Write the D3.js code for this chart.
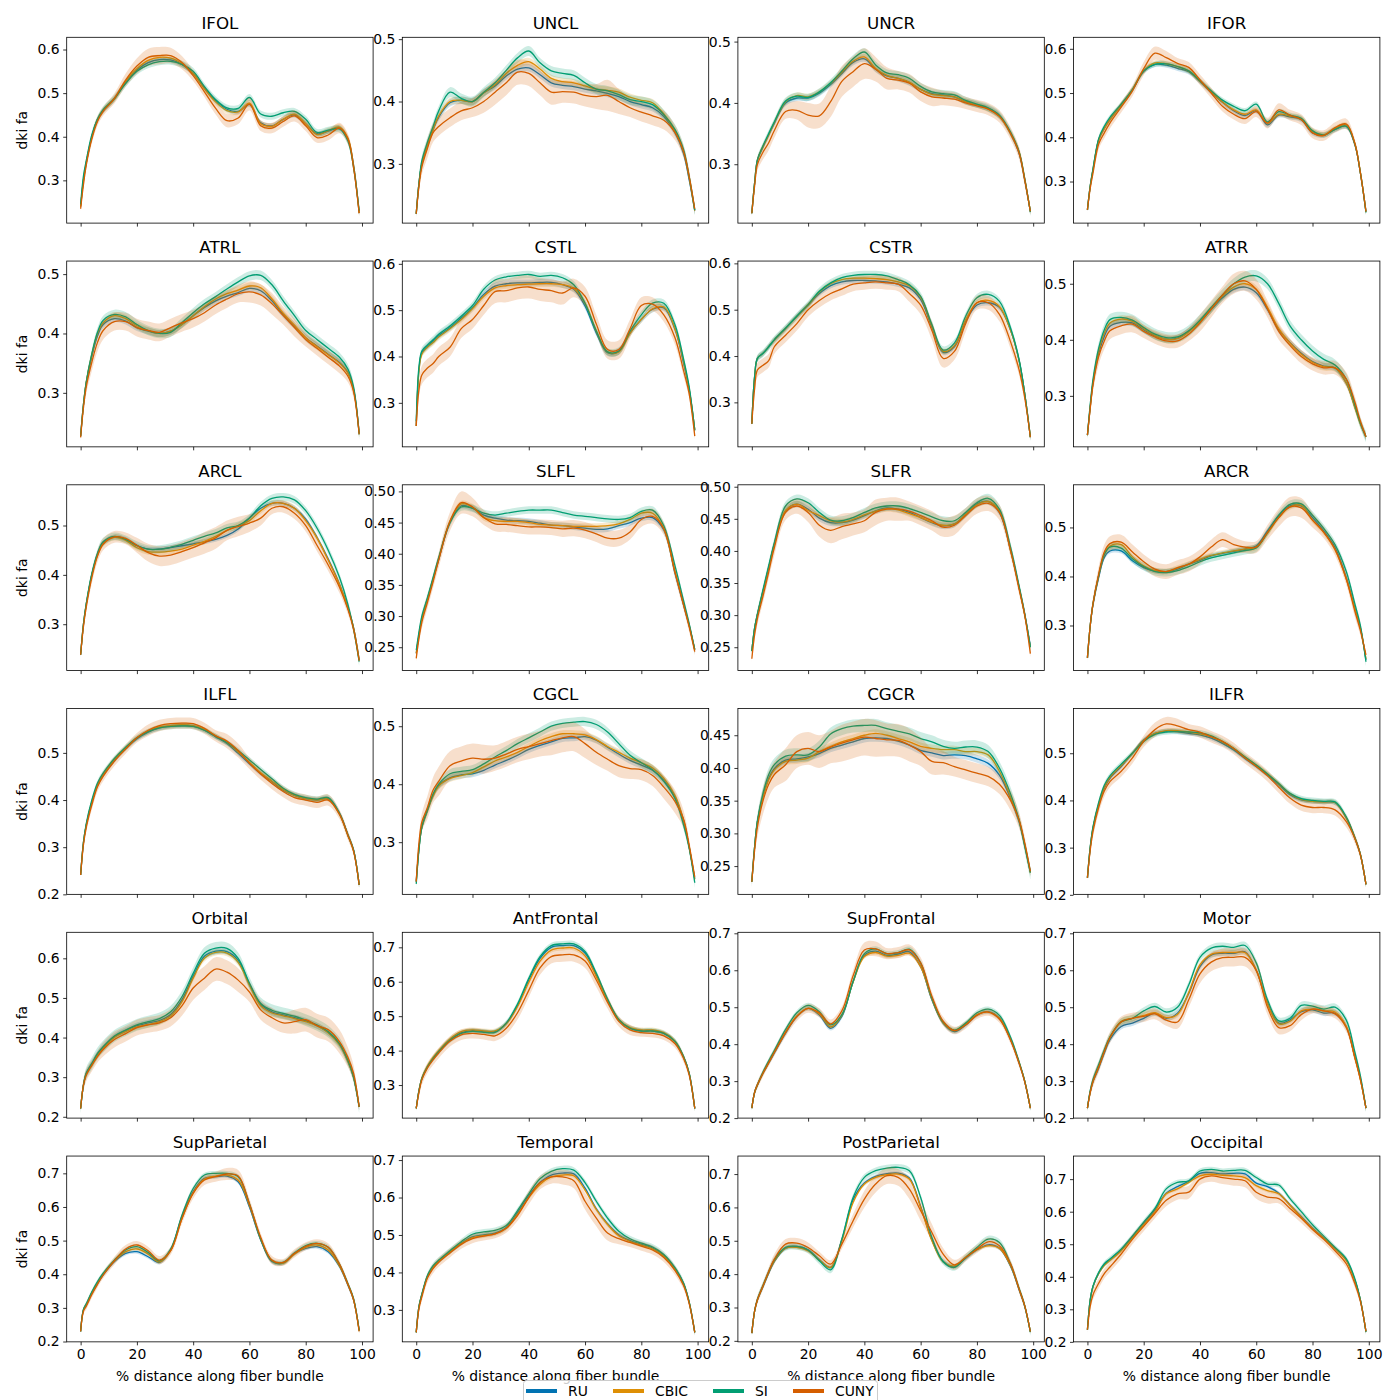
<!DOCTYPE html>
<html><head><meta charset="utf-8">
<script src="https://cdn.jsdelivr.net/npm/d3@7"></script>
<style>body{margin:0;background:#fff}svg{display:block}text{font-family:"DejaVu Sans",sans-serif}</style>
</head><body><svg id="c" width="1400" height="1400"></svg>
<script>
const xs = [0,1,2,4,6,8,12,16,20,24,28,32,36,40,44,48,52,56,60,64,68,72,76,80,84,88,92,95,97,99];
const groups = ["RU","CBIC","SI","CUNY"];
const colors = ["#0173B2","#DE8F05","#029E73","#D55E00"];
const bundles = ["IFOL","UNCL","UNCR","IFOR","ATRL","CSTL","CSTR","ATRR","ARCL","SLFL","SLFR","ARCR","ILFL","CGCL","CGCR","ILFR","Orbital","AntFrontal","SupFrontal","Motor","SupParietal","Temporal","PostParietal","Occipital"];
const xTicks = [0,20,40,60,80,100];
const yLimits = [[0.202,0.628],[0.205,0.503],[0.204,0.507],[0.206,0.626],[0.209,0.522],[0.205,0.606],[0.204,0.605],[0.209,0.5405],[0.206,0.5825],[0.2125,0.5106],[0.2136,0.503],[0.208,0.587],[0.2,0.594],[0.21,0.5305],[0.2068,0.4908],[0.201,0.5947],[0.1967,0.6657],[0.204,0.7436],[0.2,0.7027],[0.2,0.7027],[0.199,0.7514],[0.2147,0.7107],[0.197,0.754],[0.2,0.771]];
const yTicks = [[0.3,0.4,0.5,0.6],[0.3,0.4,0.5],[0.3,0.4,0.5],[0.3,0.4,0.5,0.6],[0.3,0.4,0.5],[0.3,0.4,0.5,0.6],[0.3,0.4,0.5,0.6],[0.3,0.4,0.5],[0.3,0.4,0.5],[0.25,0.30,0.35,0.40,0.45,0.50],[0.25,0.30,0.35,0.40,0.45,0.50],[0.3,0.4,0.5],[0.2,0.3,0.4,0.5],[0.3,0.4,0.5],[0.25,0.30,0.35,0.40,0.45],[0.2,0.3,0.4,0.5],[0.2,0.3,0.4,0.5,0.6],[0.3,0.4,0.5,0.6,0.7],[0.2,0.3,0.4,0.5,0.6,0.7],[0.2,0.3,0.4,0.5,0.6,0.7],[0.2,0.3,0.4,0.5,0.6,0.7],[0.3,0.4,0.5,0.6,0.7],[0.2,0.3,0.4,0.5,0.6,0.7],[0.2,0.3,0.4,0.5,0.6,0.7]];

// IFOL
const IFOL_RU=[0.24,0.30,0.34,0.40,0.44,0.46,0.487,0.525,0.553,0.570,0.577,0.576,0.566,0.545,0.512,0.483,0.463,0.458,0.474,0.432,0.425,0.44,0.45,0.43,0.407,0.413,0.42,0.395,0.335,0.225];
const IFOL_CBIC=[0.24,0.30,0.34,0.40,0.44,0.46,0.487,0.527,0.556,0.575,0.582,0.58,0.567,0.545,0.51,0.48,0.46,0.457,0.477,0.43,0.424,0.44,0.452,0.43,0.405,0.414,0.422,0.397,0.335,0.225];
const IFOL_SI=[0.245,0.31,0.345,0.405,0.44,0.462,0.488,0.522,0.55,0.565,0.572,0.573,0.566,0.55,0.515,0.485,0.466,0.465,0.49,0.452,0.447,0.455,0.458,0.44,0.41,0.415,0.418,0.39,0.33,0.23];
const IFOL_CUNY=[0.235,0.29,0.335,0.395,0.435,0.458,0.488,0.53,0.562,0.582,0.586,0.586,0.57,0.54,0.503,0.465,0.437,0.443,0.475,0.425,0.42,0.435,0.448,0.425,0.398,0.404,0.42,0.395,0.33,0.225];
const IFOL_CUNY_err=[0.005,0.008,0.01,0.01,0.01,0.01,0.012,0.015,0.018,0.02,0.02,0.018,0.015,0.012,0.012,0.014,0.015,0.014,0.015,0.012,0.012,0.012,0.013,0.012,0.012,0.012,0.012,0.012,0.01,0.005];
const IFOL_err=[0.006,0.007,0.008];
// UNCL
const UNCL_RU=[0.22,0.27,0.30,0.33,0.355,0.375,0.398,0.402,0.40,0.414,0.425,0.441,0.452,0.454,0.443,0.43,0.426,0.424,0.42,0.417,0.413,0.408,0.40,0.395,0.39,0.376,0.35,0.317,0.275,0.225];
const UNCL_CBIC=[0.22,0.27,0.30,0.33,0.355,0.377,0.40,0.402,0.40,0.414,0.427,0.445,0.458,0.464,0.452,0.437,0.432,0.43,0.425,0.42,0.418,0.415,0.407,0.402,0.398,0.38,0.352,0.32,0.278,0.225];
const UNCL_SI=[0.22,0.27,0.305,0.335,0.36,0.385,0.415,0.405,0.40,0.415,0.43,0.45,0.47,0.481,0.462,0.449,0.445,0.442,0.43,0.42,0.417,0.411,0.403,0.40,0.395,0.379,0.355,0.323,0.28,0.226];
const UNCL_CUNY=[0.22,0.265,0.295,0.325,0.35,0.36,0.374,0.385,0.39,0.40,0.415,0.43,0.447,0.445,0.43,0.415,0.416,0.415,0.41,0.408,0.41,0.40,0.39,0.383,0.377,0.37,0.35,0.32,0.28,0.228];
const UNCL_CUNY_err=[0.005,0.01,0.012,0.015,0.015,0.015,0.015,0.015,0.015,0.018,0.02,0.02,0.02,0.02,0.02,0.02,0.018,0.018,0.018,0.02,0.025,0.02,0.015,0.015,0.015,0.015,0.012,0.01,0.01,0.006];
const UNCL_err=[0.006,0.006,0.008];
// UNCR
const UNCR_RU=[0.22,0.27,0.307,0.329,0.348,0.367,0.40,0.408,0.408,0.416,0.43,0.448,0.466,0.472,0.455,0.444,0.44,0.433,0.422,0.415,0.413,0.41,0.402,0.397,0.391,0.379,0.35,0.318,0.274,0.223];
const UNCR_CBIC=[0.22,0.27,0.307,0.329,0.348,0.368,0.402,0.412,0.41,0.418,0.432,0.45,0.468,0.475,0.456,0.445,0.44,0.434,0.422,0.414,0.412,0.41,0.402,0.397,0.39,0.378,0.35,0.32,0.276,0.223];
const UNCR_SI=[0.22,0.27,0.307,0.33,0.35,0.369,0.403,0.411,0.409,0.418,0.433,0.452,0.472,0.483,0.462,0.449,0.446,0.44,0.427,0.418,0.415,0.413,0.404,0.398,0.392,0.38,0.352,0.32,0.276,0.222];
const UNCR_CUNY=[0.22,0.265,0.3,0.32,0.335,0.355,0.386,0.388,0.38,0.379,0.402,0.435,0.451,0.464,0.455,0.44,0.437,0.432,0.418,0.41,0.408,0.406,0.40,0.395,0.39,0.378,0.35,0.318,0.274,0.223];
const UNCR_CUNY_err=[0.005,0.008,0.01,0.012,0.012,0.012,0.012,0.015,0.02,0.02,0.025,0.025,0.025,0.025,0.02,0.018,0.015,0.015,0.015,0.015,0.012,0.012,0.01,0.01,0.01,0.01,0.01,0.01,0.01,0.005];
const UNCR_err=[0.005,0.005,0.006];
// IFOR
const IFOR_RU=[0.236,0.29,0.327,0.394,0.42,0.44,0.473,0.507,0.549,0.565,0.563,0.556,0.548,0.526,0.502,0.479,0.46,0.449,0.46,0.428,0.45,0.446,0.44,0.41,0.405,0.418,0.425,0.385,0.32,0.232];
const IFOR_CBIC=[0.236,0.29,0.327,0.394,0.42,0.44,0.473,0.508,0.55,0.568,0.566,0.56,0.55,0.527,0.503,0.48,0.462,0.452,0.462,0.432,0.452,0.448,0.442,0.413,0.406,0.42,0.428,0.387,0.322,0.232];
const IFOR_SI=[0.236,0.29,0.33,0.397,0.425,0.445,0.475,0.508,0.55,0.565,0.566,0.56,0.55,0.528,0.505,0.484,0.47,0.46,0.475,0.435,0.458,0.45,0.443,0.415,0.405,0.418,0.425,0.385,0.32,0.23];
const IFOR_CUNY=[0.236,0.285,0.32,0.385,0.41,0.432,0.468,0.505,0.555,0.59,0.58,0.567,0.558,0.53,0.5,0.47,0.452,0.442,0.458,0.432,0.462,0.45,0.44,0.41,0.404,0.422,0.43,0.387,0.32,0.232];
const IFOR_CUNY_err=[0.005,0.008,0.01,0.012,0.012,0.012,0.012,0.012,0.015,0.015,0.015,0.012,0.012,0.012,0.012,0.012,0.012,0.012,0.012,0.012,0.015,0.012,0.012,0.012,0.012,0.012,0.012,0.01,0.01,0.005];
const IFOR_err=[0.006,0.006,0.006];
// ATRL
const ATRL_RU=[0.227,0.28,0.317,0.362,0.396,0.415,0.425,0.421,0.41,0.404,0.40,0.404,0.415,0.43,0.444,0.455,0.463,0.469,0.476,0.472,0.455,0.432,0.413,0.393,0.379,0.365,0.351,0.334,0.306,0.232];
const ATRL_CBIC=[0.227,0.28,0.318,0.365,0.4,0.418,0.43,0.425,0.413,0.405,0.40,0.404,0.415,0.43,0.445,0.458,0.467,0.473,0.48,0.477,0.458,0.434,0.414,0.393,0.378,0.364,0.35,0.333,0.305,0.232];
const ATRL_SI=[0.227,0.28,0.318,0.366,0.402,0.422,0.432,0.428,0.415,0.405,0.40,0.402,0.418,0.435,0.45,0.462,0.475,0.487,0.497,0.498,0.482,0.455,0.43,0.405,0.39,0.375,0.36,0.34,0.31,0.23];
const ATRL_CUNY=[0.225,0.275,0.31,0.352,0.385,0.405,0.42,0.42,0.41,0.405,0.402,0.41,0.418,0.425,0.435,0.448,0.458,0.467,0.47,0.465,0.45,0.43,0.41,0.39,0.375,0.36,0.345,0.328,0.302,0.23];
const ATRL_CUNY_err=[0.005,0.01,0.012,0.015,0.015,0.015,0.015,0.015,0.015,0.015,0.015,0.015,0.015,0.015,0.015,0.015,0.015,0.015,0.018,0.018,0.018,0.015,0.015,0.012,0.012,0.012,0.012,0.01,0.01,0.005];
const ATRL_err=[0.006,0.006,0.008];
// CSTL
const CSTL_RU=[0.25,0.372,0.408,0.422,0.433,0.445,0.462,0.483,0.505,0.534,0.552,0.557,0.559,0.559,0.56,0.56,0.555,0.545,0.509,0.451,0.408,0.411,0.451,0.48,0.502,0.505,0.458,0.386,0.329,0.242];
const CSTL_CBIC=[0.25,0.37,0.405,0.42,0.43,0.442,0.46,0.48,0.503,0.53,0.548,0.553,0.555,0.556,0.557,0.557,0.555,0.547,0.515,0.455,0.41,0.41,0.45,0.48,0.503,0.507,0.46,0.39,0.33,0.242];
const CSTL_SI=[0.26,0.38,0.412,0.425,0.436,0.448,0.466,0.487,0.51,0.545,0.565,0.572,0.575,0.577,0.573,0.575,0.57,0.555,0.515,0.455,0.41,0.412,0.455,0.49,0.515,0.515,0.468,0.395,0.335,0.24];
const CSTL_CUNY=[0.25,0.33,0.36,0.375,0.385,0.40,0.42,0.46,0.48,0.51,0.54,0.542,0.548,0.55,0.545,0.542,0.537,0.548,0.53,0.47,0.415,0.415,0.46,0.51,0.513,0.49,0.44,0.37,0.32,0.228];
const CSTL_CUNY_err=[0.01,0.015,0.02,0.02,0.02,0.02,0.02,0.02,0.02,0.02,0.025,0.025,0.025,0.025,0.025,0.025,0.025,0.02,0.02,0.02,0.02,0.02,0.02,0.018,0.015,0.015,0.015,0.012,0.01,0.006];
const CSTL_err=[0.007,0.007,0.008];
// CSTR
const CSTR_RU=[0.254,0.356,0.395,0.406,0.42,0.435,0.46,0.486,0.51,0.535,0.552,0.56,0.563,0.563,0.562,0.56,0.555,0.547,0.522,0.462,0.408,0.42,0.475,0.51,0.515,0.505,0.455,0.39,0.318,0.225];
const CSTR_CBIC=[0.254,0.356,0.395,0.406,0.42,0.435,0.46,0.486,0.51,0.538,0.556,0.565,0.568,0.568,0.567,0.565,0.56,0.552,0.527,0.465,0.41,0.422,0.478,0.515,0.52,0.507,0.455,0.39,0.318,0.225];
const CSTR_SI=[0.254,0.356,0.395,0.406,0.42,0.435,0.46,0.486,0.511,0.54,0.558,0.569,0.574,0.576,0.576,0.573,0.565,0.554,0.529,0.468,0.413,0.428,0.486,0.526,0.533,0.518,0.46,0.392,0.319,0.225];
const CSTR_CUNY=[0.254,0.33,0.37,0.38,0.39,0.42,0.445,0.47,0.50,0.52,0.535,0.545,0.555,0.558,0.56,0.558,0.555,0.535,0.51,0.455,0.395,0.41,0.47,0.515,0.515,0.49,0.43,0.37,0.31,0.225];
const CSTR_CUNY_err=[0.01,0.015,0.015,0.015,0.015,0.015,0.015,0.015,0.015,0.015,0.015,0.015,0.015,0.015,0.015,0.015,0.015,0.018,0.02,0.02,0.02,0.018,0.018,0.015,0.015,0.015,0.015,0.012,0.01,0.006];
const CSTR_err=[0.006,0.006,0.008];
// ATRR
const ATRR_RU=[0.23,0.28,0.323,0.376,0.406,0.424,0.431,0.43,0.418,0.407,0.401,0.403,0.415,0.433,0.454,0.475,0.49,0.494,0.484,0.454,0.418,0.395,0.376,0.361,0.353,0.35,0.323,0.281,0.251,0.227];
const ATRR_CBIC=[0.23,0.28,0.325,0.38,0.412,0.43,0.437,0.433,0.42,0.408,0.401,0.402,0.414,0.433,0.455,0.478,0.494,0.5,0.49,0.458,0.42,0.394,0.374,0.36,0.352,0.35,0.323,0.28,0.25,0.227];
const ATRR_SI=[0.23,0.285,0.33,0.385,0.418,0.436,0.44,0.435,0.422,0.41,0.404,0.405,0.416,0.435,0.458,0.48,0.5,0.512,0.514,0.5,0.465,0.425,0.40,0.38,0.365,0.355,0.33,0.285,0.252,0.227];
const ATRR_CUNY=[0.23,0.278,0.32,0.37,0.398,0.416,0.425,0.428,0.415,0.405,0.398,0.398,0.41,0.43,0.455,0.48,0.5,0.505,0.49,0.455,0.415,0.39,0.37,0.357,0.35,0.35,0.33,0.29,0.255,0.227];
const ATRR_CUNY_err=[0.005,0.01,0.012,0.015,0.015,0.015,0.015,0.015,0.012,0.012,0.012,0.012,0.012,0.015,0.015,0.015,0.018,0.018,0.018,0.015,0.015,0.012,0.012,0.012,0.012,0.012,0.012,0.01,0.008,0.005];
const ATRR_err=[0.006,0.007,0.01];
// ARCL
const ARCL_RU=[0.238,0.30,0.34,0.401,0.442,0.465,0.477,0.472,0.459,0.452,0.452,0.455,0.459,0.463,0.467,0.472,0.48,0.493,0.515,0.535,0.545,0.545,0.535,0.513,0.476,0.432,0.381,0.333,0.293,0.228];
const ARCL_CBIC=[0.238,0.30,0.34,0.40,0.44,0.463,0.476,0.47,0.455,0.447,0.446,0.448,0.452,0.46,0.468,0.478,0.49,0.5,0.51,0.53,0.545,0.545,0.535,0.51,0.475,0.43,0.38,0.333,0.293,0.228];
const ARCL_SI=[0.238,0.30,0.342,0.403,0.444,0.467,0.478,0.472,0.46,0.452,0.452,0.456,0.462,0.47,0.478,0.485,0.495,0.50,0.515,0.54,0.555,0.558,0.552,0.53,0.495,0.45,0.395,0.34,0.29,0.224];
const ARCL_CUNY=[0.238,0.295,0.335,0.395,0.438,0.462,0.477,0.474,0.46,0.445,0.438,0.44,0.447,0.455,0.465,0.475,0.49,0.498,0.505,0.515,0.535,0.538,0.525,0.50,0.46,0.42,0.375,0.33,0.29,0.226];
const ARCL_CUNY_err=[0.005,0.01,0.01,0.012,0.012,0.012,0.012,0.012,0.015,0.018,0.02,0.02,0.02,0.02,0.022,0.022,0.02,0.02,0.018,0.015,0.012,0.012,0.012,0.012,0.012,0.012,0.012,0.01,0.008,0.005];
const ARCL_err=[0.005,0.006,0.008];
// SLFL
const SLFL_RU=[0.24,0.27,0.295,0.327,0.359,0.391,0.45,0.477,0.473,0.462,0.457,0.454,0.453,0.452,0.449,0.446,0.445,0.443,0.441,0.439,0.44,0.445,0.45,0.457,0.458,0.438,0.368,0.318,0.285,0.246];
const SLFL_CBIC=[0.24,0.27,0.295,0.327,0.359,0.392,0.452,0.48,0.475,0.458,0.453,0.452,0.452,0.45,0.447,0.446,0.445,0.444,0.444,0.444,0.445,0.448,0.455,0.465,0.465,0.44,0.37,0.32,0.285,0.246];
const SLFL_SI=[0.245,0.275,0.3,0.33,0.362,0.394,0.45,0.475,0.473,0.465,0.462,0.465,0.468,0.47,0.47,0.47,0.466,0.462,0.46,0.458,0.456,0.455,0.458,0.468,0.47,0.445,0.38,0.325,0.288,0.246];
const SLFL_CUNY=[0.232,0.265,0.29,0.322,0.355,0.39,0.452,0.482,0.475,0.458,0.448,0.447,0.445,0.443,0.443,0.442,0.44,0.441,0.438,0.432,0.425,0.425,0.435,0.455,0.46,0.44,0.37,0.318,0.283,0.243];
const SLFL_CUNY_err=[0.005,0.008,0.01,0.01,0.01,0.012,0.015,0.018,0.015,0.012,0.012,0.012,0.012,0.012,0.012,0.012,0.013,0.013,0.013,0.013,0.013,0.013,0.012,0.012,0.012,0.01,0.01,0.008,0.008,0.005];
const SLFL_err=[0.005,0.005,0.006];
// SLFR
const SLFR_RU=[0.244,0.28,0.301,0.3375,0.374,0.41,0.4625,0.473,0.465,0.451,0.444,0.444,0.448,0.455,0.4625,0.467,0.465,0.46,0.452,0.444,0.439,0.442,0.457,0.473,0.477,0.46,0.40,0.343,0.301,0.252];
const SLFR_CBIC=[0.244,0.28,0.301,0.3375,0.374,0.41,0.463,0.473,0.463,0.455,0.447,0.445,0.449,0.456,0.462,0.466,0.464,0.458,0.452,0.445,0.44,0.442,0.457,0.472,0.477,0.462,0.40,0.343,0.3,0.25];
const SLFR_SI=[0.244,0.28,0.302,0.34,0.377,0.413,0.47,0.481,0.475,0.46,0.448,0.447,0.452,0.46,0.467,0.47,0.47,0.466,0.46,0.453,0.447,0.447,0.46,0.475,0.482,0.465,0.405,0.345,0.302,0.25];
const SLFR_CUNY=[0.232,0.27,0.295,0.33,0.367,0.405,0.46,0.47,0.46,0.44,0.432,0.438,0.442,0.447,0.46,0.465,0.465,0.462,0.455,0.447,0.437,0.44,0.455,0.47,0.474,0.46,0.40,0.34,0.3,0.24];
const SLFR_CUNY_err=[0.005,0.008,0.01,0.01,0.01,0.012,0.012,0.012,0.015,0.018,0.02,0.02,0.018,0.018,0.02,0.018,0.018,0.015,0.015,0.015,0.015,0.015,0.012,0.012,0.012,0.012,0.01,0.008,0.008,0.005];
const SLFR_err=[0.005,0.005,0.007];
// ARCR
const ARCR_RU=[0.234,0.3,0.343,0.398,0.439,0.452,0.452,0.432,0.418,0.411,0.41,0.415,0.425,0.433,0.442,0.447,0.451,0.456,0.462,0.493,0.524,0.544,0.544,0.52,0.493,0.459,0.398,0.336,0.295,0.23];
const ARCR_CBIC=[0.234,0.3,0.345,0.402,0.445,0.462,0.465,0.44,0.422,0.412,0.41,0.417,0.425,0.435,0.443,0.448,0.452,0.456,0.46,0.488,0.52,0.542,0.545,0.515,0.49,0.455,0.395,0.335,0.295,0.232];
const ARCR_SI=[0.234,0.3,0.345,0.402,0.445,0.46,0.458,0.436,0.42,0.41,0.408,0.412,0.42,0.43,0.438,0.443,0.448,0.453,0.458,0.49,0.525,0.547,0.548,0.525,0.498,0.465,0.41,0.345,0.3,0.226];
const ARCR_CUNY=[0.234,0.3,0.345,0.405,0.45,0.467,0.47,0.45,0.43,0.415,0.41,0.418,0.425,0.44,0.46,0.475,0.465,0.46,0.46,0.49,0.52,0.542,0.54,0.515,0.49,0.455,0.395,0.33,0.29,0.24];
const ARCR_CUNY_err=[0.005,0.01,0.012,0.015,0.015,0.015,0.015,0.015,0.015,0.015,0.015,0.015,0.015,0.015,0.015,0.015,0.015,0.012,0.012,0.015,0.018,0.02,0.02,0.015,0.012,0.012,0.012,0.012,0.01,0.006];
const ARCR_err=[0.005,0.006,0.008];
// ILFL
const ILFL_RU=[0.241,0.31,0.347,0.396,0.432,0.453,0.484,0.509,0.53,0.544,0.553,0.557,0.559,0.557,0.548,0.534,0.52,0.499,0.477,0.456,0.439,0.421,0.41,0.403,0.40,0.403,0.372,0.326,0.294,0.22];
const ILFL_CBIC=[0.241,0.31,0.347,0.396,0.432,0.454,0.486,0.51,0.532,0.546,0.555,0.558,0.56,0.558,0.55,0.536,0.522,0.502,0.48,0.458,0.44,0.422,0.41,0.403,0.40,0.402,0.37,0.325,0.293,0.22];
const ILFL_SI=[0.241,0.31,0.35,0.4,0.436,0.457,0.488,0.512,0.532,0.545,0.553,0.556,0.557,0.556,0.548,0.535,0.522,0.505,0.485,0.465,0.445,0.425,0.412,0.405,0.402,0.405,0.372,0.326,0.294,0.22];
const ILFL_CUNY=[0.241,0.305,0.342,0.39,0.428,0.45,0.482,0.508,0.532,0.548,0.558,0.562,0.563,0.562,0.552,0.536,0.525,0.505,0.478,0.455,0.435,0.418,0.405,0.40,0.395,0.40,0.37,0.325,0.292,0.22];
const ILFL_CUNY_err=[0.005,0.008,0.01,0.01,0.01,0.01,0.01,0.01,0.01,0.012,0.012,0.012,0.012,0.012,0.012,0.012,0.015,0.015,0.012,0.012,0.012,0.012,0.012,0.012,0.012,0.012,0.01,0.01,0.008,0.005];
const ILFL_err=[0.005,0.005,0.006];
// CGCL
const CGCL_RU=[0.232,0.29,0.326,0.355,0.381,0.398,0.411,0.416,0.418,0.424,0.433,0.441,0.45,0.46,0.467,0.473,0.479,0.48,0.482,0.476,0.464,0.452,0.441,0.433,0.424,0.407,0.378,0.338,0.292,0.237];
const CGCL_CBIC=[0.232,0.29,0.326,0.355,0.38,0.397,0.41,0.415,0.42,0.43,0.44,0.447,0.455,0.465,0.475,0.482,0.487,0.487,0.485,0.477,0.465,0.455,0.445,0.437,0.428,0.41,0.38,0.338,0.292,0.236];
const CGCL_SI=[0.228,0.288,0.326,0.356,0.383,0.4,0.418,0.422,0.425,0.435,0.447,0.458,0.47,0.48,0.49,0.50,0.505,0.507,0.508,0.503,0.49,0.47,0.45,0.437,0.425,0.405,0.375,0.33,0.29,0.23];
const CGCL_CUNY=[0.232,0.3,0.335,0.36,0.39,0.405,0.432,0.44,0.445,0.443,0.445,0.452,0.46,0.465,0.47,0.475,0.48,0.482,0.47,0.455,0.443,0.432,0.427,0.425,0.415,0.395,0.37,0.34,0.295,0.24];
const CGCL_CUNY_err=[0.006,0.012,0.015,0.02,0.022,0.025,0.025,0.025,0.025,0.025,0.022,0.022,0.022,0.022,0.022,0.025,0.025,0.025,0.025,0.022,0.02,0.02,0.018,0.018,0.018,0.02,0.02,0.015,0.01,0.006];
const CGCL_err=[0.006,0.006,0.008];
// CGCR
const CGCR_RU=[0.226,0.28,0.318,0.358,0.384,0.399,0.412,0.414,0.417,0.422,0.43,0.435,0.44,0.445,0.446,0.445,0.441,0.435,0.427,0.423,0.419,0.42,0.419,0.414,0.407,0.389,0.353,0.318,0.282,0.241];
const CGCR_CBIC=[0.226,0.28,0.318,0.356,0.382,0.397,0.41,0.412,0.415,0.425,0.433,0.44,0.445,0.45,0.453,0.45,0.445,0.44,0.433,0.43,0.428,0.428,0.425,0.425,0.42,0.395,0.355,0.32,0.283,0.24];
const CGCR_SI=[0.226,0.28,0.32,0.362,0.39,0.405,0.418,0.42,0.42,0.432,0.452,0.46,0.464,0.465,0.465,0.46,0.456,0.452,0.445,0.44,0.433,0.43,0.432,0.432,0.425,0.40,0.36,0.32,0.28,0.24];
const CGCR_CUNY=[0.226,0.275,0.31,0.35,0.375,0.39,0.405,0.425,0.43,0.425,0.432,0.438,0.443,0.447,0.445,0.443,0.442,0.435,0.425,0.41,0.408,0.402,0.397,0.392,0.387,0.375,0.35,0.32,0.285,0.242];
const CGCR_CUNY_err=[0.006,0.01,0.015,0.02,0.02,0.02,0.025,0.025,0.025,0.025,0.025,0.028,0.028,0.028,0.028,0.025,0.025,0.025,0.022,0.02,0.018,0.015,0.015,0.015,0.015,0.015,0.015,0.012,0.01,0.006];
const CGCR_err=[0.006,0.006,0.01];
// ILFR
const ILFR_RU=[0.236,0.3,0.342,0.391,0.426,0.447,0.472,0.50,0.528,0.542,0.547,0.546,0.542,0.539,0.532,0.521,0.507,0.489,0.472,0.454,0.433,0.412,0.401,0.398,0.397,0.395,0.363,0.321,0.286,0.222];
const ILFR_CBIC=[0.236,0.3,0.342,0.392,0.428,0.449,0.474,0.50,0.527,0.542,0.548,0.548,0.545,0.541,0.535,0.524,0.51,0.492,0.475,0.456,0.435,0.414,0.402,0.398,0.397,0.396,0.363,0.322,0.286,0.222];
const ILFR_SI=[0.236,0.302,0.345,0.396,0.432,0.452,0.477,0.50,0.525,0.54,0.545,0.546,0.545,0.543,0.537,0.525,0.51,0.492,0.475,0.456,0.436,0.415,0.404,0.4,0.398,0.397,0.365,0.322,0.286,0.222];
const ILFR_CUNY=[0.236,0.295,0.335,0.385,0.42,0.44,0.462,0.49,0.525,0.55,0.562,0.558,0.55,0.545,0.535,0.525,0.51,0.49,0.472,0.452,0.428,0.405,0.39,0.385,0.385,0.38,0.355,0.32,0.285,0.222];
const ILFR_CUNY_err=[0.005,0.01,0.012,0.012,0.012,0.012,0.012,0.012,0.012,0.015,0.015,0.015,0.012,0.012,0.012,0.012,0.012,0.012,0.012,0.012,0.012,0.012,0.012,0.012,0.012,0.012,0.012,0.01,0.008,0.005];
const ILFR_err=[0.005,0.005,0.006];
// Orbital
const Orbital_RU=[0.221,0.28,0.31,0.334,0.358,0.375,0.402,0.418,0.43,0.437,0.443,0.458,0.495,0.555,0.605,0.618,0.617,0.595,0.535,0.484,0.465,0.457,0.45,0.442,0.43,0.413,0.383,0.34,0.3,0.225];
const Orbital_CBIC=[0.221,0.28,0.308,0.332,0.355,0.372,0.4,0.415,0.427,0.433,0.44,0.455,0.49,0.55,0.6,0.615,0.613,0.59,0.532,0.48,0.462,0.455,0.448,0.44,0.43,0.412,0.382,0.34,0.3,0.225];
const Orbital_SI=[0.221,0.28,0.31,0.335,0.36,0.377,0.404,0.419,0.432,0.44,0.448,0.465,0.503,0.562,0.613,0.626,0.625,0.60,0.537,0.486,0.469,0.461,0.454,0.444,0.432,0.415,0.385,0.343,0.301,0.225];
const Orbital_CUNY=[0.221,0.28,0.305,0.33,0.352,0.37,0.395,0.41,0.425,0.432,0.437,0.45,0.48,0.525,0.55,0.573,0.565,0.545,0.515,0.47,0.45,0.437,0.44,0.445,0.43,0.42,0.39,0.35,0.31,0.225];
const Orbital_CUNY_err=[0.006,0.015,0.015,0.015,0.015,0.018,0.02,0.02,0.02,0.02,0.02,0.022,0.025,0.03,0.03,0.03,0.03,0.03,0.025,0.025,0.025,0.025,0.03,0.03,0.03,0.03,0.03,0.025,0.02,0.008];
const Orbital_err=[0.008,0.008,0.015];
// AntFrontal
const AntFrontal_RU=[0.232,0.285,0.319,0.353,0.377,0.397,0.431,0.452,0.458,0.455,0.455,0.479,0.532,0.605,0.668,0.70,0.705,0.705,0.683,0.62,0.547,0.489,0.465,0.457,0.457,0.45,0.426,0.382,0.334,0.232];
const AntFrontal_CBIC=[0.232,0.285,0.32,0.355,0.38,0.4,0.434,0.455,0.46,0.457,0.457,0.478,0.528,0.598,0.66,0.692,0.698,0.698,0.675,0.615,0.547,0.49,0.467,0.46,0.46,0.452,0.427,0.382,0.334,0.232];
const AntFrontal_SI=[0.232,0.285,0.319,0.353,0.377,0.397,0.43,0.45,0.456,0.453,0.453,0.48,0.535,0.61,0.673,0.705,0.71,0.71,0.688,0.625,0.55,0.49,0.465,0.457,0.457,0.45,0.427,0.383,0.335,0.232];
const AntFrontal_CUNY=[0.232,0.28,0.315,0.35,0.373,0.393,0.427,0.446,0.45,0.447,0.443,0.465,0.51,0.575,0.64,0.673,0.678,0.678,0.66,0.605,0.54,0.485,0.46,0.452,0.45,0.443,0.42,0.378,0.33,0.232];
const AntFrontal_CUNY_err=[0.006,0.015,0.015,0.015,0.015,0.015,0.015,0.015,0.015,0.015,0.015,0.018,0.02,0.02,0.02,0.02,0.02,0.02,0.02,0.02,0.018,0.015,0.015,0.012,0.012,0.012,0.012,0.012,0.01,0.006];
const AntFrontal_err=[0.006,0.007,0.008];
// SupFrontal
const SupFrontal_RU=[0.227,0.27,0.29,0.322,0.349,0.376,0.43,0.475,0.497,0.479,0.443,0.475,0.569,0.641,0.652,0.64,0.644,0.65,0.61,0.52,0.457,0.434,0.452,0.479,0.488,0.47,0.412,0.349,0.299,0.227];
const SupFrontal_CBIC=[0.227,0.27,0.29,0.322,0.35,0.378,0.432,0.476,0.497,0.482,0.447,0.478,0.568,0.637,0.648,0.638,0.64,0.646,0.61,0.522,0.458,0.437,0.455,0.48,0.487,0.47,0.412,0.35,0.3,0.227];
const SupFrontal_SI=[0.227,0.27,0.29,0.325,0.355,0.383,0.44,0.485,0.505,0.488,0.452,0.48,0.57,0.645,0.658,0.645,0.648,0.657,0.62,0.525,0.46,0.438,0.457,0.485,0.495,0.478,0.418,0.352,0.3,0.227];
const SupFrontal_CUNY=[0.227,0.27,0.29,0.322,0.35,0.378,0.432,0.475,0.497,0.485,0.455,0.49,0.585,0.655,0.658,0.645,0.648,0.655,0.62,0.53,0.462,0.437,0.452,0.478,0.487,0.468,0.41,0.348,0.298,0.227];
const SupFrontal_CUNY_err=[0.005,0.008,0.01,0.01,0.01,0.01,0.012,0.012,0.012,0.012,0.012,0.012,0.015,0.02,0.02,0.015,0.015,0.015,0.015,0.012,0.012,0.01,0.01,0.01,0.01,0.01,0.01,0.01,0.008,0.005];
const SupFrontal_err=[0.006,0.006,0.007];
// Motor
const Motor_RU=[0.227,0.27,0.299,0.335,0.376,0.412,0.448,0.457,0.47,0.484,0.47,0.484,0.538,0.61,0.641,0.646,0.646,0.65,0.60,0.511,0.457,0.466,0.488,0.493,0.484,0.484,0.448,0.367,0.308,0.227];
const Motor_CBIC=[0.227,0.27,0.3,0.338,0.38,0.418,0.462,0.47,0.478,0.485,0.472,0.48,0.54,0.615,0.643,0.648,0.648,0.648,0.60,0.51,0.455,0.462,0.49,0.495,0.49,0.487,0.448,0.365,0.305,0.227];
const Motor_SI=[0.227,0.275,0.305,0.345,0.385,0.42,0.46,0.47,0.49,0.502,0.487,0.50,0.56,0.635,0.66,0.665,0.662,0.667,0.62,0.52,0.463,0.47,0.505,0.503,0.495,0.50,0.465,0.38,0.315,0.227];
const Motor_CUNY=[0.227,0.27,0.3,0.338,0.38,0.418,0.46,0.47,0.475,0.482,0.465,0.46,0.52,0.59,0.622,0.634,0.635,0.635,0.60,0.50,0.445,0.45,0.48,0.495,0.49,0.482,0.445,0.365,0.305,0.227];
const Motor_CUNY_err=[0.006,0.012,0.015,0.015,0.015,0.015,0.015,0.015,0.015,0.015,0.015,0.018,0.02,0.025,0.025,0.025,0.025,0.025,0.025,0.02,0.018,0.015,0.015,0.012,0.012,0.012,0.012,0.012,0.01,0.006];
const Motor_err=[0.008,0.008,0.01];
// SupParietal
const SupParietal_RU=[0.23,0.294,0.309,0.344,0.373,0.398,0.438,0.462,0.467,0.452,0.435,0.472,0.571,0.646,0.685,0.69,0.692,0.675,0.60,0.502,0.438,0.433,0.462,0.477,0.482,0.467,0.423,0.368,0.324,0.235];
const SupParietal_CBIC=[0.23,0.294,0.31,0.345,0.375,0.4,0.44,0.467,0.475,0.46,0.437,0.47,0.565,0.642,0.683,0.692,0.695,0.68,0.605,0.505,0.44,0.433,0.46,0.48,0.487,0.472,0.425,0.37,0.325,0.232];
const SupParietal_SI=[0.23,0.295,0.312,0.348,0.378,0.403,0.442,0.472,0.482,0.465,0.44,0.475,0.575,0.655,0.695,0.70,0.70,0.69,0.61,0.505,0.44,0.435,0.463,0.485,0.492,0.48,0.43,0.372,0.328,0.232];
const SupParietal_CUNY=[0.23,0.29,0.305,0.34,0.37,0.397,0.44,0.475,0.487,0.47,0.442,0.47,0.565,0.64,0.68,0.69,0.698,0.692,0.61,0.51,0.442,0.435,0.462,0.483,0.492,0.48,0.43,0.37,0.325,0.23];
const SupParietal_CUNY_err=[0.005,0.008,0.01,0.01,0.01,0.01,0.012,0.012,0.012,0.012,0.012,0.012,0.015,0.015,0.015,0.015,0.018,0.018,0.015,0.012,0.012,0.01,0.012,0.012,0.012,0.012,0.01,0.01,0.008,0.005];
const SupParietal_err=[0.006,0.006,0.007];
// Temporal
const Temporal_RU=[0.24,0.31,0.34,0.39,0.415,0.43,0.455,0.478,0.495,0.50,0.505,0.52,0.56,0.605,0.64,0.66,0.665,0.663,0.625,0.57,0.53,0.50,0.485,0.475,0.465,0.445,0.41,0.37,0.32,0.24];
const Temporal_CBIC=[0.24,0.31,0.34,0.39,0.415,0.43,0.455,0.477,0.493,0.498,0.503,0.518,0.555,0.6,0.635,0.655,0.66,0.658,0.62,0.568,0.528,0.498,0.483,0.473,0.463,0.443,0.408,0.37,0.32,0.24];
const Temporal_SI=[0.24,0.31,0.342,0.392,0.418,0.433,0.458,0.482,0.502,0.508,0.512,0.525,0.565,0.61,0.65,0.67,0.677,0.673,0.64,0.59,0.545,0.51,0.49,0.478,0.468,0.448,0.412,0.372,0.322,0.24];
const Temporal_CUNY=[0.24,0.305,0.335,0.385,0.41,0.427,0.452,0.475,0.49,0.497,0.503,0.518,0.552,0.6,0.64,0.655,0.655,0.645,0.59,0.545,0.505,0.49,0.48,0.47,0.46,0.44,0.405,0.365,0.318,0.24];
const Temporal_CUNY_err=[0.006,0.012,0.012,0.012,0.012,0.012,0.012,0.012,0.012,0.012,0.012,0.012,0.015,0.018,0.018,0.018,0.02,0.02,0.022,0.022,0.02,0.015,0.012,0.012,0.012,0.012,0.012,0.01,0.01,0.006];
const Temporal_err=[0.006,0.006,0.008];
// PostParietal
const PostParietal_RU=[0.223,0.29,0.323,0.363,0.403,0.438,0.478,0.483,0.473,0.443,0.42,0.503,0.623,0.673,0.693,0.701,0.703,0.688,0.603,0.503,0.438,0.422,0.448,0.473,0.488,0.478,0.423,0.353,0.303,0.228];
const PostParietal_CBIC=[0.223,0.29,0.323,0.365,0.405,0.44,0.478,0.48,0.47,0.442,0.42,0.50,0.615,0.67,0.69,0.698,0.70,0.685,0.60,0.50,0.437,0.425,0.45,0.473,0.485,0.478,0.425,0.355,0.305,0.228];
const PostParietal_SI=[0.223,0.29,0.325,0.367,0.408,0.443,0.48,0.483,0.472,0.44,0.413,0.505,0.63,0.69,0.71,0.718,0.72,0.71,0.63,0.51,0.438,0.42,0.45,0.48,0.505,0.495,0.43,0.357,0.305,0.226];
const PostParietal_CUNY=[0.223,0.29,0.323,0.365,0.408,0.445,0.49,0.493,0.48,0.455,0.43,0.49,0.56,0.625,0.67,0.695,0.69,0.655,0.59,0.525,0.46,0.428,0.45,0.475,0.497,0.485,0.43,0.355,0.305,0.228];
const PostParietal_CUNY_err=[0.006,0.01,0.012,0.012,0.012,0.015,0.015,0.015,0.015,0.012,0.012,0.015,0.02,0.025,0.025,0.025,0.025,0.03,0.03,0.025,0.018,0.015,0.012,0.012,0.012,0.012,0.012,0.012,0.01,0.006];
const PostParietal_err=[0.006,0.006,0.01];
// Occipital
const Occipital_RU=[0.237,0.33,0.37,0.411,0.437,0.452,0.483,0.524,0.565,0.606,0.657,0.677,0.693,0.718,0.72,0.716,0.718,0.716,0.688,0.677,0.657,0.621,0.585,0.549,0.519,0.488,0.452,0.391,0.329,0.232];
const Occipital_CBIC=[0.237,0.33,0.37,0.41,0.435,0.45,0.48,0.52,0.56,0.60,0.655,0.67,0.69,0.71,0.715,0.712,0.71,0.705,0.68,0.665,0.655,0.62,0.583,0.548,0.518,0.487,0.45,0.39,0.33,0.232];
const Occipital_SI=[0.237,0.33,0.372,0.413,0.44,0.455,0.485,0.525,0.568,0.61,0.67,0.69,0.695,0.725,0.73,0.725,0.727,0.727,0.705,0.685,0.682,0.64,0.60,0.56,0.525,0.49,0.455,0.395,0.33,0.23];
const Occipital_CUNY=[0.237,0.31,0.345,0.38,0.41,0.43,0.47,0.515,0.555,0.595,0.635,0.655,0.66,0.70,0.71,0.705,0.70,0.695,0.66,0.645,0.64,0.61,0.58,0.545,0.515,0.48,0.44,0.38,0.325,0.232];
const Occipital_CUNY_err=[0.006,0.012,0.015,0.015,0.015,0.015,0.015,0.015,0.015,0.015,0.018,0.018,0.02,0.018,0.018,0.02,0.02,0.02,0.02,0.02,0.015,0.015,0.015,0.012,0.012,0.012,0.012,0.012,0.01,0.006];
const Occipital_err=[0.006,0.006,0.008];

// ---- table built from the named arrays ----
const table = {
 IFOL:[IFOL_RU,IFOL_CBIC,IFOL_SI,IFOL_CUNY,IFOL_err,IFOL_CUNY_err],
 UNCL:[UNCL_RU,UNCL_CBIC,UNCL_SI,UNCL_CUNY,UNCL_err,UNCL_CUNY_err],
 UNCR:[UNCR_RU,UNCR_CBIC,UNCR_SI,UNCR_CUNY,UNCR_err,UNCR_CUNY_err],
 IFOR:[IFOR_RU,IFOR_CBIC,IFOR_SI,IFOR_CUNY,IFOR_err,IFOR_CUNY_err],
 ATRL:[ATRL_RU,ATRL_CBIC,ATRL_SI,ATRL_CUNY,ATRL_err,ATRL_CUNY_err],
 CSTL:[CSTL_RU,CSTL_CBIC,CSTL_SI,CSTL_CUNY,CSTL_err,CSTL_CUNY_err],
 CSTR:[CSTR_RU,CSTR_CBIC,CSTR_SI,CSTR_CUNY,CSTR_err,CSTR_CUNY_err],
 ATRR:[ATRR_RU,ATRR_CBIC,ATRR_SI,ATRR_CUNY,ATRR_err,ATRR_CUNY_err],
 ARCL:[ARCL_RU,ARCL_CBIC,ARCL_SI,ARCL_CUNY,ARCL_err,ARCL_CUNY_err],
 SLFL:[SLFL_RU,SLFL_CBIC,SLFL_SI,SLFL_CUNY,SLFL_err,SLFL_CUNY_err],
 SLFR:[SLFR_RU,SLFR_CBIC,SLFR_SI,SLFR_CUNY,SLFR_err,SLFR_CUNY_err],
 ARCR:[ARCR_RU,ARCR_CBIC,ARCR_SI,ARCR_CUNY,ARCR_err,ARCR_CUNY_err],
 ILFL:[ILFL_RU,ILFL_CBIC,ILFL_SI,ILFL_CUNY,ILFL_err,ILFL_CUNY_err],
 CGCL:[CGCL_RU,CGCL_CBIC,CGCL_SI,CGCL_CUNY,CGCL_err,CGCL_CUNY_err],
 CGCR:[CGCR_RU,CGCR_CBIC,CGCR_SI,CGCR_CUNY,CGCR_err,CGCR_CUNY_err],
 ILFR:[ILFR_RU,ILFR_CBIC,ILFR_SI,ILFR_CUNY,ILFR_err,ILFR_CUNY_err],
 Orbital:[Orbital_RU,Orbital_CBIC,Orbital_SI,Orbital_CUNY,Orbital_err,Orbital_CUNY_err],
 AntFrontal:[AntFrontal_RU,AntFrontal_CBIC,AntFrontal_SI,AntFrontal_CUNY,AntFrontal_err,AntFrontal_CUNY_err],
 SupFrontal:[SupFrontal_RU,SupFrontal_CBIC,SupFrontal_SI,SupFrontal_CUNY,SupFrontal_err,SupFrontal_CUNY_err],
 Motor:[Motor_RU,Motor_CBIC,Motor_SI,Motor_CUNY,Motor_err,Motor_CUNY_err],
 SupParietal:[SupParietal_RU,SupParietal_CBIC,SupParietal_SI,SupParietal_CUNY,SupParietal_err,SupParietal_CUNY_err],
 Temporal:[Temporal_RU,Temporal_CBIC,Temporal_SI,Temporal_CUNY,Temporal_err,Temporal_CUNY_err],
 PostParietal:[PostParietal_RU,PostParietal_CBIC,PostParietal_SI,PostParietal_CUNY,PostParietal_err,PostParietal_CUNY_err],
 Occipital:[Occipital_RU,Occipital_CBIC,Occipital_SI,Occipital_CUNY,Occipital_err,Occipital_CUNY_err]
};

// ---- layout ----
const svg = d3.select("#c");
const L0 = 66.7, colPitch = 335.6, axW = 306.4, T0 = 37.3, rowPitch = 223.75, axH = 185.8;
const FONT = '"DejaVu Sans", sans-serif';
const tickFS = 13.9, titleFS = 16.7, labelFS = 13.9;
const defs = svg.append("defs");

bundles.forEach((name, i) => {
  const r = Math.floor(i / 4), c = i % 4;
  const left = L0 + c * colPitch, top = T0 + r * rowPitch;
  const g = svg.append("g").attr("transform", `translate(${left},${top})`);
  const x = d3.scaleLinear().domain([-4.95, 103.95]).range([0, axW]);
  const y = d3.scaleLinear().domain(yLimits[i]).range([axH, 0]);
  const clipId = "clip" + i;
  defs.append("clipPath").attr("id", clipId).append("rect").attr("width", axW).attr("height", axH);
  const plot = g.append("g").attr("clip-path", `url(#${clipId})`);
  const rows = table[name];
  const curve = d3.curveCatmullRom.alpha(0.5);
  groups.forEach((grp, k) => {
    const vals = rows[k];
    const err = k === 3 ? rows[5] : xs.map(() => rows[4][k]);
    const pts = xs.map((xv, j) => ({x: xv, v: vals[j], e: err[j]}));
    const area = d3.area().curve(curve).x(d => x(d.x)).y0(d => y(d.v - d.e)).y1(d => y(d.v + d.e));
    const line = d3.line().curve(curve).x(d => x(d.x)).y(d => y(d.v));
    plot.append("path").datum(pts).attr("d", area).attr("fill", colors[k]).attr("fill-opacity", 0.2).attr("stroke", "none");
    plot.append("path").datum(pts).attr("d", line).attr("fill", "none").attr("stroke", colors[k]).attr("stroke-width", 1.3);
  });
  g.append("rect").attr("width", axW).attr("height", axH).attr("fill", "none").attr("stroke", "#000").attr("stroke-width", 0.8);
  const dec = yTicks[i].some(t => Math.abs(t * 10 - Math.round(t * 10)) > 1e-6) ? 2 : 1;
  const ya = d3.axisLeft(y).tickValues(yTicks[i]).tickSize(3.5).tickPadding(3.5).tickFormat(d3.format(`.${dec}f`));
  const yg = g.append("g").call(ya);
  yg.select(".domain").remove();
  yg.selectAll("line").attr("stroke", "#000").attr("stroke-width", 0.8);
  yg.selectAll("text").attr("font-size", tickFS).attr("font-family", FONT).attr("fill", "#000");
  const xa = d3.axisBottom(x).tickValues(xTicks).tickSize(3.5).tickPadding(3.5).tickFormat(r === 5 ? d3.format("d") : () => "");
  const xg = g.append("g").attr("transform", `translate(0,${axH})`).call(xa);
  xg.select(".domain").remove();
  xg.selectAll("line").attr("stroke", "#000").attr("stroke-width", 0.8);
  xg.selectAll("text").attr("font-size", tickFS).attr("font-family", FONT).attr("fill", "#000");
  g.append("text").attr("x", axW / 2).attr("y", -8.3).attr("text-anchor", "middle")
    .attr("font-size", titleFS).attr("font-family", FONT).attr("fill", "#000").text(name);
  if (c === 0) {
    g.append("text").attr("transform", `translate(${27 - left},${axH / 2}) rotate(-90)`).attr("text-anchor", "middle")
      .attr("font-size", labelFS).attr("font-family", FONT).attr("fill", "#000").text("dki fa");
  }
  if (r === 5) {
    g.append("text").attr("x", axW / 2).attr("y", axH + 39).attr("text-anchor", "middle")
      .attr("font-size", labelFS).attr("font-family", FONT).attr("fill", "#000").text("% distance along fiber bundle");
  }
});

// legend
const lg = svg.append("g");
lg.append("rect").attr("x", 523.5).attr("y", 1380.5).attr("width", 354).attr("height", 26).attr("rx", 3)
  .attr("fill", "#fff").attr("fill-opacity", 0.8).attr("stroke", "#cccccc").attr("stroke-width", 1);
const legX = [526, 613, 713, 793];
groups.forEach((grp, k) => {
  lg.append("line").attr("x1", legX[k]).attr("x2", legX[k] + 31).attr("y1", 1391).attr("y2", 1391)
    .attr("stroke", colors[k]).attr("stroke-width", 4);
  lg.append("text").attr("x", legX[k] + 42).attr("y", 1396).attr("font-size", labelFS).attr("font-family", FONT)
    .attr("fill", "#000").text(grp);
});
</script></body></html>
